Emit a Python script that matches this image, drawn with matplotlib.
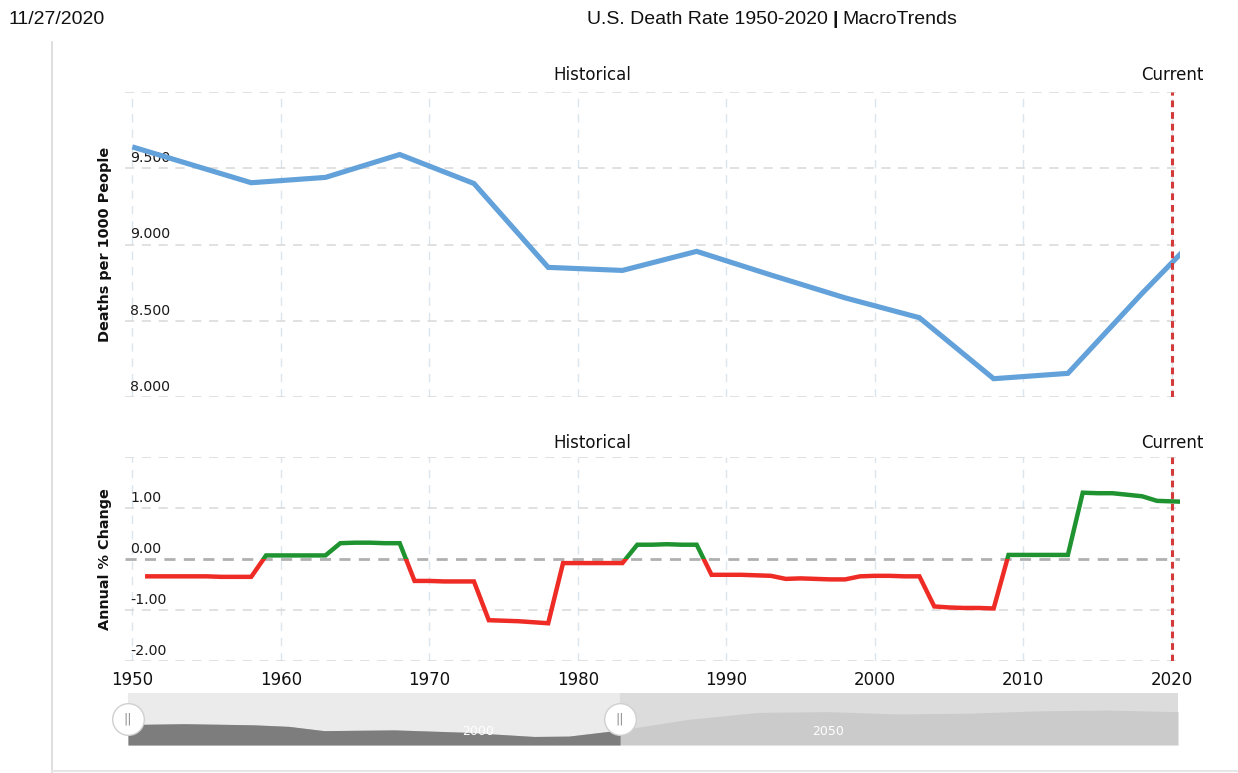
import matplotlib
matplotlib.use("Agg")
import matplotlib.pyplot as plt
from matplotlib.patches import Rectangle
from matplotlib.lines import Line2D
import numpy as np

# ---------------- data ----------------
rate_years = [1950, 1958, 1963, 1968, 1973, 1978, 1983, 1988, 1993, 1998, 2003, 2008, 2013, 2018, 2019, 2020, 2021]
rate_values = [9.64, 9.405, 9.44, 9.59, 9.40, 8.85, 8.83, 8.955, 8.80, 8.65, 8.52, 8.12, 8.155, 8.68, 8.78, 8.88, 8.98]

chg_years = list(range(1951, 2022))
chg_values = [
    -0.34, -0.34, -0.34, -0.34, -0.34, -0.35, -0.35, -0.35,   # 1951-1958
    0.07, 0.07, 0.07, 0.07, 0.07,                               # 1959-1963
    0.31, 0.32, 0.32, 0.31, 0.31,                               # 1964-1968
    -0.43, -0.43, -0.44, -0.44, -0.44,                          # 1969-1973
    -1.20, -1.21, -1.22, -1.24, -1.26,                          # 1974-1978
    -0.08, -0.08, -0.08, -0.08, -0.08,                          # 1979-1983
    0.28, 0.28, 0.29, 0.28, 0.28,                               # 1984-1988
    -0.31, -0.31, -0.31, -0.32, -0.33,                          # 1989-1993
    -0.39, -0.38, -0.39, -0.40, -0.40,                          # 1994-1998
    -0.34, -0.33, -0.33, -0.34, -0.34,                          # 1999-2003
    -0.93, -0.95, -0.96, -0.96, -0.97,                          # 2004-2008
    0.08, 0.08, 0.08, 0.08, 0.08,                               # 2009-2013
    1.30, 1.29, 1.29, 1.26, 1.23, 1.14, 1.13, 1.12,             # 2014-2021
]

nav_years = [1950, 1958, 1968, 1973, 1978, 1988, 1998, 2008, 2013, 2020, 2030, 2040, 2050, 2060, 2070, 2080, 2090, 2100]
nav_values = [9.64, 9.75, 9.6, 9.4, 8.85, 8.95, 8.65, 8.1, 8.15, 8.9, 10.3, 11.2, 11.3, 11.0, 11.1, 11.4, 11.5, 11.3]

x_ticks = [1950, 1960, 1970, 1980, 1990, 2000, 2010, 2020]
top_yticks = [8.0, 8.5, 9.0, 9.5]
bot_yticks = [-2.0, -1.0, 0.0, 1.0]
nav_labels = [1950, 2000, 2050]
current_year = 2020
handle_years = [1950, 2020.3]

# ---------------- style ----------------
W, H = 1238, 773
fig = plt.figure(figsize=(W / 100, H / 100), dpi=100)
FONT = "DejaVu Sans"

def fx(px):
    return px / W

def fy(py):
    return 1 - py / H

XL = (1949.5, 2020.55)
ax_l, ax_r = 125, 1180

ax1 = fig.add_axes([fx(ax_l), fy(397), fx(ax_r - ax_l), (397 - 92) / H])
ax2 = fig.add_axes([fx(ax_l), fy(661), fx(ax_r - ax_l), (661 - 457) / H])

hgrid = dict(color="#d9d9d9", lw=1.1, ls=(0, (6, 5)), zorder=1)
vgrid = dict(color="#dbe5ee", lw=1.0, ls=(0, (6, 5)), zorder=1)

for ax in (ax1, ax2):
    ax.set_xlim(*XL)
    for s in ax.spines.values():
        s.set_visible(False)
    ax.tick_params(length=0)
    for xt in x_ticks:
        ax.axvline(xt, **vgrid)

# top panel
ax1.set_ylim(8.0, 10.0)
for yv in top_yticks + [10.0]:
    ax1.axhline(yv, **hgrid)
ax1.set_xticks([])
ax1.set_yticks([])
for yv in top_yticks:
    ax1.annotate(f"{yv:.3f}", xy=(0, yv), xycoords=("axes fraction", "data"),
                 xytext=(5, 3), textcoords="offset pixels", ha="left", va="bottom",
                 fontsize=10.2, family=FONT, color="#1a1a1a")
ax1.plot(rate_years, rate_values, color="#62a1d9", lw=3.7, solid_joinstyle="miter",
         solid_capstyle="butt", zorder=3)
ax1.axvline(current_year, color="#d43a3a", lw=2.2, ls=(0, (2.2, 1.6)), zorder=4)
ax1.set_ylabel("Deaths per 1000 People", fontsize=10.4, fontweight="bold", family=FONT,
               color="#111111")
ax1.text(1981, 1.025, "Historical", transform=ax1.get_xaxis_transform(), ha="center",
         va="bottom", fontsize=12, family=FONT, color="#111111")
ax1.text(current_year, 1.025, "Current", transform=ax1.get_xaxis_transform(), ha="center",
         va="bottom", fontsize=12, family=FONT, color="#111111")

# bottom panel
ax2.set_ylim(-2.0, 2.0)
for yv in [-2.0, -1.0, 1.0, 2.0]:
    ax2.axhline(yv, **hgrid)
ax2.axhline(0.0, color="#b0b0b0", lw=2.0, ls=(0, (4, 3)), zorder=1)
ax2.set_yticks([])
for yv in bot_yticks:
    ax2.annotate(f"{yv:.2f}", xy=(0, yv), xycoords=("axes fraction", "data"),
                 xytext=(5, 3), textcoords="offset pixels", ha="left", va="bottom",
                 fontsize=10.2, family=FONT, color="#1a1a1a")
ax2.set_xticks(x_ticks)
ax2.set_xticklabels([str(t) for t in x_ticks], fontsize=12, family=FONT, color="#111111")
ax2.tick_params(axis="x", pad=7)

lg, = ax2.plot(chg_years, chg_values, color="#1f9330", lw=3.2, zorder=3,
               solid_joinstyle="miter")
lr, = ax2.plot(chg_years, chg_values, color="#ee2b24", lw=3.2, zorder=3,
               solid_joinstyle="miter")
lg.set_clip_path(Rectangle((XL[0], 0), XL[1] - XL[0], 2.0, transform=ax2.transData))
lr.set_clip_path(Rectangle((XL[0], -2.0), XL[1] - XL[0], 2.0, transform=ax2.transData))
ax2.axvline(current_year, color="#d43a3a", lw=2.2, ls=(0, (2.2, 1.6)), zorder=4)
ax2.set_ylabel("Annual % Change", fontsize=10.4, fontweight="bold", family=FONT,
               color="#111111")
ax2.text(1981, 1.025, "Historical", transform=ax2.get_xaxis_transform(), ha="center",
         va="bottom", fontsize=12, family=FONT, color="#111111")
ax2.text(current_year, 1.025, "Current", transform=ax2.get_xaxis_transform(), ha="center",
         va="bottom", fontsize=12, family=FONT, color="#111111")

# align ylabels (right edge of rotated label at x ~ 112 px)
ax1.yaxis.set_label_coords(-(ax_l - 112) / (ax_r - ax_l), 0.5)
ax2.yaxis.set_label_coords(-(ax_l - 112) / (ax_r - ax_l), 0.5)

# navigator
axn = fig.add_axes([fx(128), fy(745), fx(1050), 52 / H])
axn.set_xlim(1950, 2100)
axn.set_ylim(7.0, 13.7)
axn.set_xticks([])
axn.set_yticks([])
for s in axn.spines.values():
    s.set_visible(False)
axn.add_patch(Rectangle((1950, 7.0), handle_years[1] - 1950, 6.7, color="#ebebeb", zorder=0))
axn.add_patch(Rectangle((handle_years[1], 7.0), 2100 - handle_years[1], 6.7, color="#dcdcdc", zorder=0))
nx = np.array(nav_years, float)
nv = np.array(nav_values, float)
sel = nx <= handle_years[1]
axn.fill_between(nx, 7.0, nv, color="#cbcbcb", lw=0, zorder=1)
xs = np.append(nx[sel], handle_years[1])
vs = np.append(nv[sel], np.interp(handle_years[1], nx, nv))
axn.fill_between(xs, 7.0, vs, color="#7d7d7d", lw=0, zorder=2)
for lab in nav_labels:
    axn.text(lab - 2.3 if lab == 1950 else lab, 7.9, str(lab), ha="center", va="bottom",
             fontsize=9, family=FONT, color="white", zorder=3, clip_on=True)
for hy in handle_years:
    axn.scatter([hy], [10.35], s=520, color="white", edgecolor="#d0d0d0", lw=1.0,
                zorder=5, clip_on=False)
    axn.text(hy, 10.35, "||", ha="center", va="center", fontsize=9, color="#8a8a8a",
             family=FONT, zorder=6)

# header
fig.text(fx(8), fy(20), "11/27/2020", ha="left", va="center", fontsize=14,
         family="Liberation Sans", color="#111111")
bar_x = 835
fig.text(fx(bar_x - 7), fy(20), "U.S. Death Rate 1950-2020", ha="right",
         va="center", fontsize=14, family="Liberation Sans", color="#111111")
fig.text(fx(bar_x), fy(20), "|", ha="center", va="center", fontsize=14,
         fontweight="bold", family="Liberation Sans", color="#111111")
fig.text(fx(bar_x + 7), fy(20), "MacroTrends", ha="left", va="center", fontsize=14,
         family="Liberation Sans", color="#111111")

# page frame lines
fig.add_artist(Line2D([fx(52), fx(52)], [fy(42), fy(773)], color="#d8d8d8", lw=1.2))
fig.add_artist(Line2D([fx(52), fx(1238)], [fy(771), fy(771)], color="#e6e6e6", lw=1.5))

fig.savefig("out.png", dpi=100)
